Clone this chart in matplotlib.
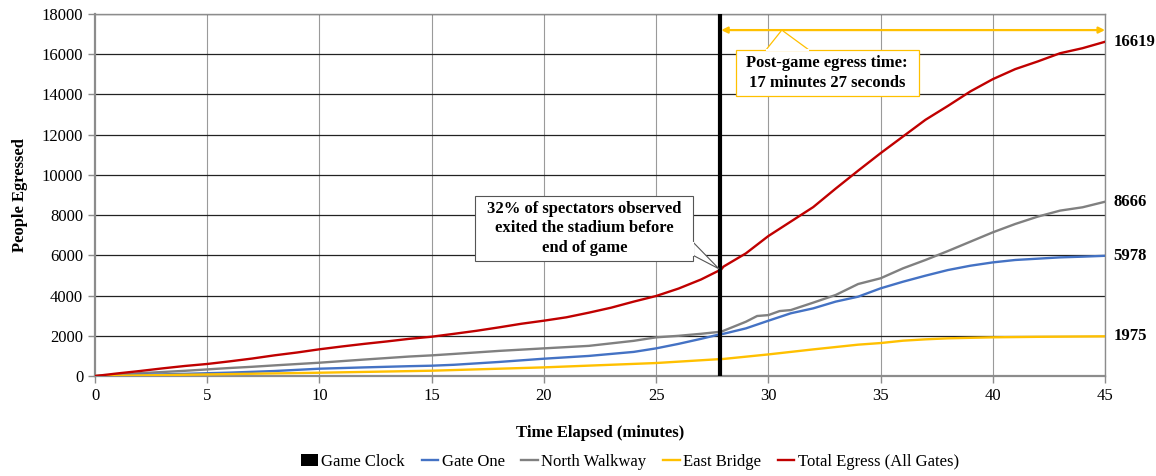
import matplotlib
matplotlib.use("Agg")
import matplotlib.pyplot as plt
from matplotlib.patches import Rectangle, Polygon
from matplotlib.lines import Line2D

plt.rcParams['font.family'] = ['Liberation Serif', 'DejaVu Serif']

# Cumulative counts of people leaving the stadium (minutes since start of observation)
total_t = [0, 1, 2, 3, 4, 5, 6, 7, 8, 9, 10, 11, 12, 13, 14, 15, 16, 17, 18, 19, 20,
           21, 22, 23, 24, 25, 26, 27, 27.9, 28, 29, 30, 31, 32, 33, 34, 35, 36, 37,
           38, 39, 40, 41, 42, 43, 44, 45]
total_v = [0, 130, 250, 380, 500, 600, 730, 870, 1030, 1170, 1330, 1470, 1600, 1720,
           1850, 1955, 2100, 2250, 2420, 2600, 2752, 2920, 3150, 3400, 3700, 3980, 4350,
           4800, 5300, 5440, 6100, 6960, 7680, 8400, 9320, 10210, 11080, 11910, 12740,
           13430, 14150, 14760, 15260, 15640, 16050, 16300, 16619]

north_t = [0, 1, 2, 3, 4, 5, 6, 7, 8, 10, 12, 14, 15, 16, 18, 20, 22, 24, 25, 26, 27,
           27.9, 28, 29, 29.5, 30, 30.5, 31, 32, 33, 34, 35, 36, 37, 38, 39, 40, 41,
           42, 43, 44, 45]
north_v = [0, 70, 140, 200, 260, 330, 400, 460, 530, 663, 820, 970, 1028, 1100, 1250,
           1376, 1500, 1750, 1924, 2000, 2100, 2206, 2250, 2700, 2985, 3030, 3230, 3280,
           3650, 4030, 4575, 4860, 5355, 5770, 6215, 6680, 7145, 7560, 7925, 8225, 8390,
           8666]

gate_t = [0, 2, 4, 5, 6, 8, 10, 12, 14, 15, 16, 18, 20, 22, 24, 25, 26, 27, 27.9, 28,
          29, 30, 31, 32, 33, 34, 35, 36, 37, 38, 39, 40, 41, 42, 43, 44, 45]
gate_v = [0, 60, 110, 140, 170, 250, 365, 430, 490, 514, 560, 700, 862, 1000, 1200,
          1376, 1600, 1850, 2090, 2100, 2370, 2750, 3120, 3365, 3700, 3945, 4360, 4690,
          4990, 5270, 5485, 5650, 5770, 5835, 5900, 5935, 5978]

east_t = [0, 5, 10, 15, 20, 25, 27.9, 28, 30, 32, 34, 35, 36, 37, 38, 40, 42, 45]
east_v = [0, 80, 165, 265, 431, 647, 846, 850, 1075, 1325, 1560, 1640, 1757, 1825,
          1875, 1925, 1950, 1975]

game_end = 27.85
egress_label = "Post-game egress time:\n17 minutes 27 seconds"
early_label = "32% of spectators observed\nexited the stadium before\nend of game"

BLUE = "#4472C4"
GRAY = "#808080"
GOLD = "#FFC000"
RED = "#C00000"
FS = 12

fig = plt.figure(figsize=(11.56, 4.76), dpi=100)
ax = fig.add_axes([0.0822, 0.21, 0.8737, 0.7606])

ax.set_xlim(0, 45)
ax.set_ylim(0, 18000)
ax.set_xticks(range(0, 46, 5))
ax.set_yticks(range(0, 18001, 2000))

for x in range(5, 46, 5):
    ax.axvline(x, color="#9a9a9a", lw=0.8, zorder=0)
for y in range(2000, 18001, 2000):
    ax.axhline(y, color="#222222", lw=0.9, zorder=0)

for s in ax.spines.values():
    s.set_color("#8c8c8c")
    s.set_linewidth(1.0)
ax.spines['left'].set_linewidth(1.6)
ax.spines['bottom'].set_linewidth(1.6)

ax.tick_params(axis='both', labelsize=FS, labelcolor="#000000", length=5, width=1,
               direction='out', color="#8c8c8c")

lw = 1.7
ax.plot(north_t, north_v, color=GRAY, lw=lw, zorder=3)
ax.plot(gate_t, gate_v, color=BLUE, lw=lw, zorder=3)
ax.plot(east_t, east_v, color=GOLD, lw=lw, zorder=3)
ax.plot(total_t, total_v, color=RED, lw=lw, zorder=4)
ax.axvline(game_end, color="black", lw=3, zorder=5)

# Final values at the right edge
for v in (total_v[-1], north_v[-1], gate_v[-1], east_v[-1]):
    ax.annotate(f"{v}", xy=(45, v), xytext=(6, 0), textcoords="offset points",
                ha="left", va="center", fontsize=FS, fontweight="bold",
                annotation_clip=False)

# Double-headed arrow spanning the post-game period
arrow_y = 17200
ax.annotate("", xy=(game_end + 0.05, arrow_y), xytext=(45, arrow_y),
            arrowprops=dict(arrowstyle="<|-|>", color=GOLD, lw=1.6,
                            mutation_scale=9, shrinkA=0, shrinkB=0),
            zorder=6, annotation_clip=False)

# Callout for the egress duration
bx0, bx1, by0, by1 = 28.55, 36.7, 13930, 16220
ax.add_patch(Polygon([(29.9, by1), (30.6, arrow_y), (31.8, by1)], closed=False,
                     facecolor="white", edgecolor=GOLD, lw=0.9, zorder=6))
ax.add_patch(Rectangle((bx0, by0), bx1 - bx0, by1 - by0, facecolor="white",
                       edgecolor=GOLD, lw=0.9, zorder=6))
ax.plot([29.95, 31.75], [by1, by1], color="white", lw=1.5, zorder=6.5)
ax.text((bx0 + bx1) / 2, (by0 + by1) / 2, egress_label, ha="center", va="center",
        fontsize=FS, fontweight="bold", linespacing=1.35, zorder=7)

# Callout for spectators leaving early
cx0, cx1, cy0, cy1 = 16.95, 26.65, 5700, 8930
ax.add_patch(Polygon([(cx1, 6650), (game_end - 0.05, 5330), (cx1, 6000)], closed=False,
                     facecolor="white", edgecolor="#555555", lw=0.8, zorder=6))
ax.add_patch(Rectangle((cx0, cy0), cx1 - cx0, cy1 - cy0, facecolor="white",
                       edgecolor="#555555", lw=0.8, zorder=6))
ax.plot([cx1, cx1], [6030, 6620], color="white", lw=1.5, zorder=6.5)
ax.text((cx0 + cx1) / 2, (cy0 + cy1) / 2 + 40, early_label, ha="center", va="center",
        fontsize=FS, fontweight="bold", linespacing=1.3, zorder=7)

ax.set_xlabel("Time Elapsed (minutes)", fontsize=FS, fontweight="bold", labelpad=15)
ax.set_ylabel("People Egressed", fontsize=FS, fontweight="bold", labelpad=10)

handles = [
    Rectangle((0, 0), 1, 1, facecolor="black"),
    Line2D([], [], color=BLUE, lw=1.7),
    Line2D([], [], color=GRAY, lw=1.7),
    Line2D([], [], color=GOLD, lw=1.7),
    Line2D([], [], color=RED, lw=1.7),
]
labels = ["Game Clock", "Gate One", "North Walkway", "East Bridge",
          "Total Egress (All Gates)"]
fig.legend(handles, labels, loc="center", bbox_to_anchor=(0.545, 0.03), ncol=5,
           frameon=False, fontsize=FS, handlelength=1.0, handletextpad=0.2,
           columnspacing=1.0, handleheight=0.8)

fig.savefig("out.png", dpi=100)
